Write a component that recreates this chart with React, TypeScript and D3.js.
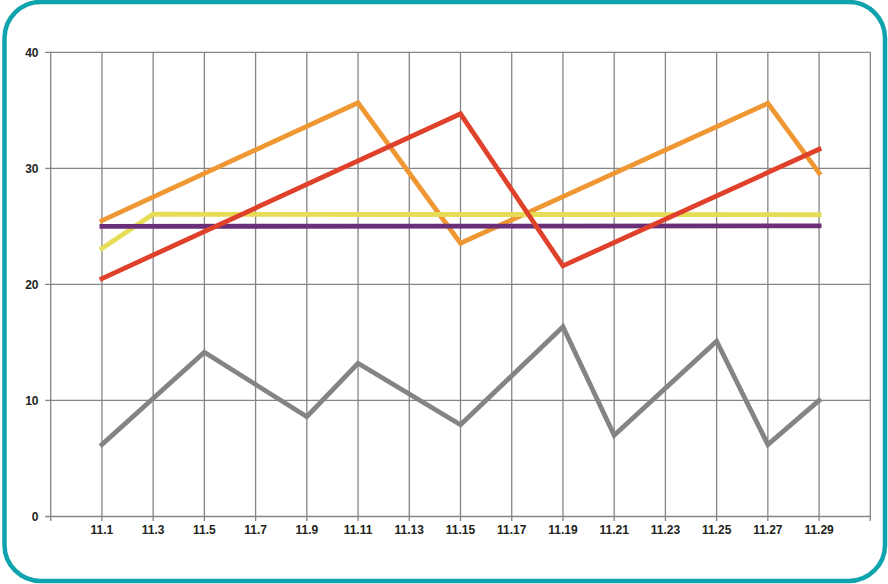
import React from "react";
import * as d3 from "d3";

const categories = ["11.1", "11.3", "11.5", "11.7", "11.9", "11.11", "11.13", "11.15", "11.17", "11.19", "11.21", "11.23", "11.25", "11.27", "11.29"];
const yTicks = [0, 10, 20, 30, 40];

const orangeData: [string, number][] = [["11.1", 25.5], ["11.11", 35.65], ["11.15", 23.55], ["11.27", 35.6], ["11.29", 29.6]];
const yellowData: [string, number][] = [["11.1", 23.1], ["11.3", 26.05], ["11.29", 26.0]];
const purpleData: [string, number][] = [["11.1", 25.0], ["11.29", 25.05]];
const redData: [string, number][] = [["11.1", 20.5], ["11.15", 34.7], ["11.19", 21.6], ["11.29", 31.65]];
const grayData: [string, number][] = [["11.1", 6.2], ["11.5", 14.15], ["11.9", 8.6], ["11.11", 13.2], ["11.15", 7.9], ["11.19", 16.35], ["11.21", 7.0], ["11.25", 15.1], ["11.27", 6.2], ["11.29", 10.0]];

const seriesList = [
  { name: "gray", data: grayData, color: "#838486" },
  { name: "orange", data: orangeData, color: "#ef9733" },
  { name: "yellow", data: yellowData, color: "#e7dc55" },
  { name: "purple", data: purpleData, color: "#6b2f78" },
  { name: "red", data: redData, color: "#df412b" },
];

export default function App() {
  const W = 888, H = 584;
  const left = 50.7, right = 870.3, top = 52.3, bottom = 516.5;
  const x = d3.scaleLinear().domain([0, categories.length + 1]).range([left, right]);
  const y = d3.scaleLinear().domain([0, 40]).range([bottom, top]);
  const xi = (c: string) => x(categories.indexOf(c) + 1);
  const line = d3.line<[string, number]>().x((d) => xi(d[0])).y((d) => y(d[1]));
  const gridX = d3.range(0, categories.length + 2);
  const gridColor = "#858585";
  return (
    <svg width={W} height={H} style={{ position: "absolute", left: 0, top: 0, background: "#fff" }}>
      <rect x={4.5} y={2} width={W - 7.5} height={H - 5} rx={36} ry={36} fill="#fff" stroke="#0fa3ae" strokeWidth={4.5} />
      {/* horizontal gridlines */}
      {yTicks.map((t) => (
        <line key={"h" + t} x1={left - 5.5} x2={right} y1={y(t)} y2={y(t)} stroke={gridColor} strokeWidth={1.3} />
      ))}
      {/* vertical gridlines */}
      {gridX.map((i) => (
        <line key={"v" + i} x1={x(i)} x2={x(i)} y1={top} y2={bottom + 4.5} stroke={gridColor} strokeWidth={1.3} />
      ))}
      {/* y labels */}
      {yTicks.map((t) => (
        <text key={"yl" + t} x={38.5} y={y(t)} dy="0.36em" textAnchor="end" fontFamily="'Liberation Sans', Arial, sans-serif" fontWeight="bold" fontSize={12} fill="#231f20">
          {t}
        </text>
      ))}
      {/* x labels */}
      {categories.map((c) => (
        <text key={"xl" + c} x={xi(c)} y={534} textAnchor="middle" fontFamily="'Liberation Sans', Arial, sans-serif" fontWeight="bold" fontSize={12} fill="#231f20">
          {c}
        </text>
      ))}
      {seriesList.map((s) => (
        <path key={s.name} d={line(s.data) || ""} fill="none" stroke={s.color} strokeWidth={4.8} strokeLinecap="square" strokeLinejoin="miter" />
      ))}
    </svg>
  );
}
